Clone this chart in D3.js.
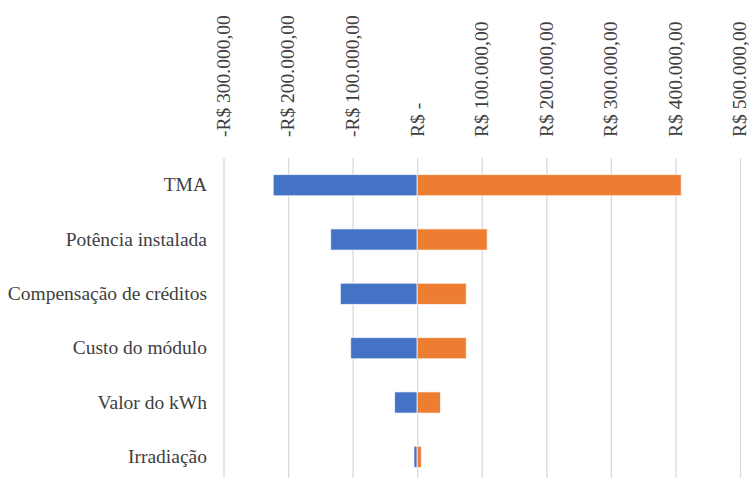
<!DOCTYPE html>
<html>
<head>
<meta charset="utf-8">
<script src="https://cdn.jsdelivr.net/npm/d3@7"></script>
<style>
  body { margin: 0; background: #fff; }
  text { font-family: "Liberation Serif", "Times New Roman", serif; fill: #404040; }
</style>
</head>
<body>
<div id="chart"></div>
<script>
// Data
const categories = ["TMA", "Potência instalada", "Compensação de créditos", "Custo do módulo", "Valor do kWh", "Irradiação"];
const lowValues = [-223000, -134000, -119000, -103000, -35000, -5000];
const highValues = [409000, 108500, 76000, 76000, 36000, 6500];
const tickValues = [-300000, -200000, -100000, 0, 100000, 200000, 300000, 400000, 500000];
const tickLabels = ["-R$ 300.000,00", "-R$ 200.000,00", "-R$ 100.000,00", "R$ -", "R$ 100.000,00", "R$ 200.000,00", "R$ 300.000,00", "R$ 400.000,00", "R$ 500.000,00"];

const W = 749, H = 478;
const plotTop = 158, plotBottom = 484;

const svg = d3.select("#chart")
  .append("svg")
  .attr("width", W)
  .attr("height", H);

// scales
const x = d3.scaleLinear()
  .domain([-300000, 500000])
  .range([223.5, 740]);

const y = d3.scaleBand()
  .domain(categories)
  .range([plotTop, plotBottom])
  .paddingInner(0.61)
  .paddingOuter(0.305);

// vertical gridlines
const grid = svg.append("g")
  .attr("transform", `translate(0,${plotTop})`)
  .call(d3.axisTop(x).tickValues(tickValues).tickSize(-(plotBottom - plotTop)).tickFormat(""));
grid.selectAll(".tick line").attr("stroke", "#d9d9d9").attr("stroke-width", 1.3);
grid.select(".domain").remove();

// tick labels (rotated, on top)
const axisLabels = svg.append("g")
  .attr("transform", "translate(0,137)")
  .call(d3.axisTop(x).tickValues(tickValues).tickSize(0).tickFormat((d, i) => tickLabels[i]));
axisLabels.select(".domain").remove();
axisLabels.selectAll(".tick text")
  .attr("transform", "rotate(-90)")
  .attr("x", 0)
  .attr("y", 0)
  .attr("dy", "0.3em")
  .attr("text-anchor", "start")
  .style("font-size", "19.5px")
  .style("font-family", "'Liberation Serif', serif")
  .style("fill", "#404040");

// bars
const rows = categories.map((c, i) => ({ cat: c, low: lowValues[i], high: highValues[i] }));

svg.selectAll(".bar-low")
  .data(rows)
  .enter()
  .append("rect")
  .attr("class", "bar-low")
  .attr("x", d => x(d.low))
  .attr("y", d => y(d.cat))
  .attr("width", d => x(0) - x(d.low))
  .attr("height", y.bandwidth())
  .attr("fill", "#4472c4")
  .attr("stroke", "#fff")
  .attr("stroke-opacity", 0.7)
  .attr("stroke-width", 1);

svg.selectAll(".bar-high")
  .data(rows)
  .enter()
  .append("rect")
  .attr("class", "bar-high")
  .attr("x", x(0))
  .attr("y", d => y(d.cat))
  .attr("width", d => x(d.high) - x(0))
  .attr("height", y.bandwidth())
  .attr("fill", "#ed7d31")
  .attr("stroke", "#fff")
  .attr("stroke-opacity", 0.7)
  .attr("stroke-width", 1);

// category labels
const yAxis = svg.append("g")
  .attr("transform", "translate(207,0)")
  .call(d3.axisLeft(y).tickSize(0).tickPadding(0));
yAxis.select(".domain").remove();
yAxis.selectAll(".tick text")
  .style("font-size", "19.5px")
  .style("font-family", "'Liberation Serif', serif")
  .style("fill", "#404040");
</script>
</body>
</html>
